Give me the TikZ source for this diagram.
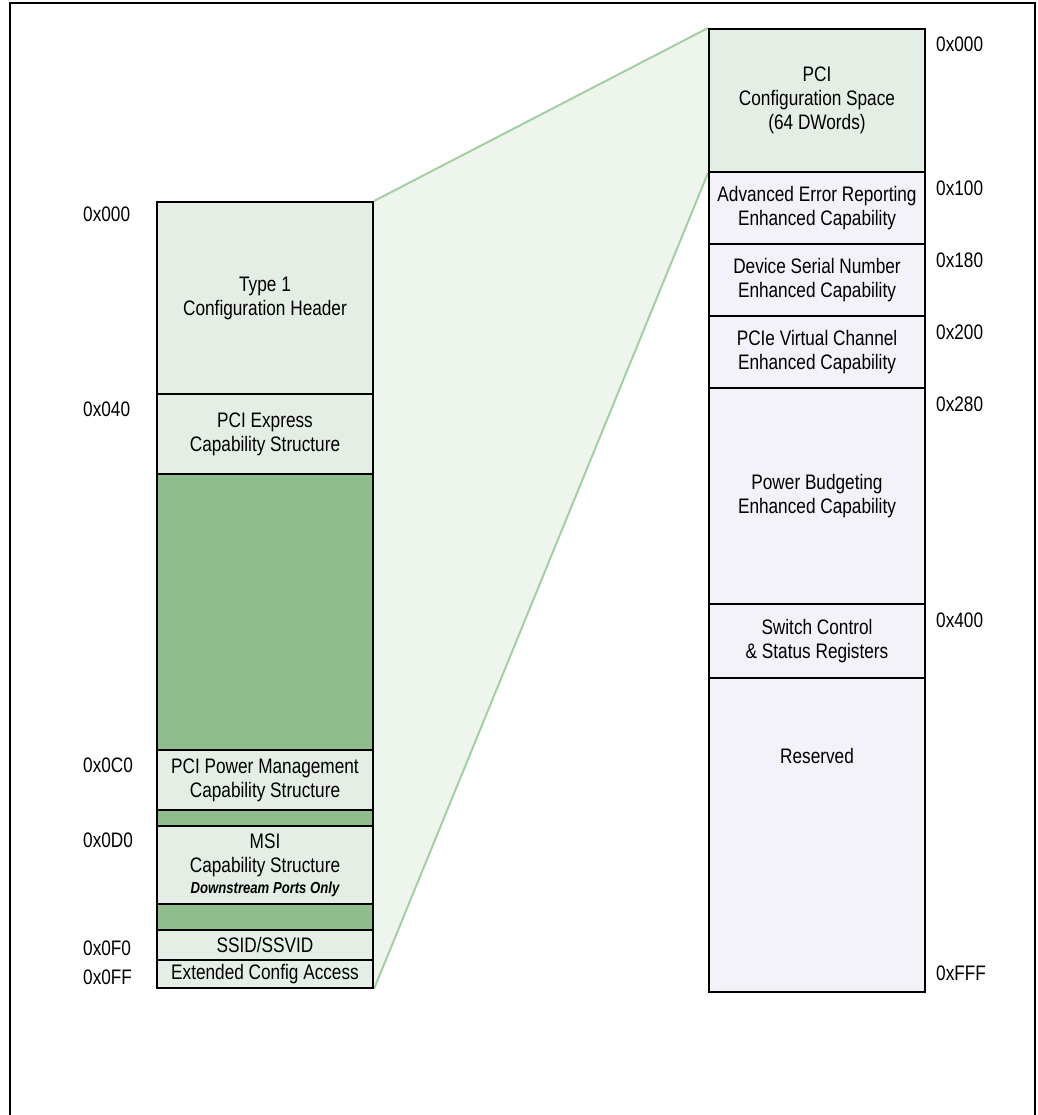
\documentclass[tikz,border=0pt]{standalone}
\usepackage{fontspec}
\setmainfont{Liberation Sans}[FakeStretch=0.82]
\usetikzlibrary{backgrounds}
\definecolor{lgreen}{RGB}{228,238,228}
\definecolor{dgreen}{RGB}{143,190,140}
\definecolor{lav}{RGB}{242,242,248}
\definecolor{trapfill}{RGB}{238,245,236}
\definecolor{trapline}{RGB}{163,207,163}
\tikzset{
  blk/.style={draw=black, line width=2pt, anchor=north west, minimum width=216pt,
    inner sep=0pt, align=center, font=\fontsize{21}{24}\selectfont},
  addr/.style={anchor=west, inner sep=0pt, font=\fontsize{21}{24}\selectfont},
  txt/.style={inner sep=0pt, align=center, font=\fontsize{21}{24}\selectfont}
}
\begin{document}
\begin{tikzpicture}[x=1pt,y=-1pt]
\useasboundingbox (0,0) rectangle (1037,1115);
% outer frame (open at the bottom)
\draw[line width=2pt] (10,1120) -- (10,3) -- (1035,3) -- (1035,1120);

% left stack
\node[blk, fill=lgreen, minimum height=192pt] (t1) at (156,201) {Type 1\\Configuration Header};
\node[blk, fill=lgreen, minimum height=80pt] (pcie) at (156,393) {PCI Express\\Capability Structure};
\node[blk, fill=dgreen, minimum height=276pt] (g1) at (156,473) {};
\node[blk, fill=lgreen, minimum height=60pt] (pm) at (156,749) {PCI Power Management\\Capability Structure};
\node[blk, fill=dgreen, minimum height=16pt] (g2) at (156,809) {};
\node[blk, fill=lgreen, minimum height=78pt] (msi) at (156,825) {MSI\\Capability Structure\\[-3pt]{\fontsize{16}{18}\selectfont\bfseries\itshape Downstream Ports Only}};
\node[blk, fill=dgreen, minimum height=26pt] (g3) at (156,903) {};
\node[blk, fill=lgreen, minimum height=30pt] (ssid) at (156,929) {SSID/SSVID};
\node[blk, fill=lgreen, minimum height=28pt] (ext) at (156,959) {Extended Config Access};

% right stack
\node[blk, fill=lgreen, minimum height=143pt] (pcs) at (708,28) {PCI\\Configuration Space\\(64 DWords)};
\node[blk, fill=lav, minimum height=72pt] (aer) at (708,171) {Advanced Error Reporting\\Enhanced Capability};
\node[blk, fill=lav, minimum height=72pt] (dsn) at (708,243) {Device Serial Number\\Enhanced Capability};
\node[blk, fill=lav, minimum height=72pt] (vc) at (708,315) {PCIe Virtual Channel\\Enhanced Capability};
\node[blk, fill=lav, minimum height=216pt] (pb) at (708,387) {Power Budgeting\\Enhanced Capability};
\node[blk, fill=lav, minimum height=74pt] (sw) at (708,603) {Switch Control\\\& Status Registers};
\node[blk, fill=lav, minimum height=314pt] (res) at (708,677) {};
\node[txt] (restxt) at (res.center |- 0,756) {Reserved};

% expansion trapezoid
\begin{scope}[on background layer]
  \fill[trapfill] (t1.north east) -- (pcs.north west) -- (pcs.south west) -- (ext.south east) -- cycle;
  \draw[trapline, line width=2pt] (t1.north east) -- (pcs.north west);
  \draw[trapline, line width=2pt] (ext.south east) -- (pcs.south west);
\end{scope}

% left addresses
\node[addr] (la0) at (83,214) {0x000};
\node[addr] (la1) at (83,409) {0x040};
\node[addr] (la2) at (83,765) {0x0C0};
\node[addr] (la3) at (83,840) {0x0D0};
\node[addr] (la4) at (83,948) {0x0F0};
\node[addr] (la5) at (83,977) {0x0FF};

% right addresses
\node[addr] (ra0) at (936,44) {0x000};
\node[addr] (ra1) at (936,188) {0x100};
\node[addr] (ra2) at (936,260) {0x180};
\node[addr] (ra3) at (936,332) {0x200};
\node[addr] (ra4) at (936,404) {0x280};
\node[addr] (ra5) at (936,620) {0x400};
\node[addr] (ra6) at (936,973) {0xFFF};
\end{tikzpicture}
\end{document}
